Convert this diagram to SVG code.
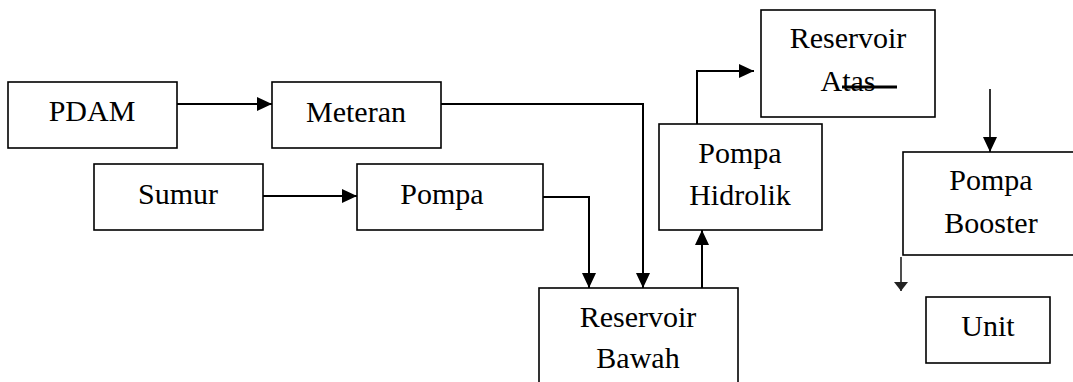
<svg xmlns="http://www.w3.org/2000/svg" width="1073" height="382" viewBox="0 0 1073 382">
<style>
.box{fill:#fff;stroke:#000;stroke-width:1.6}
text{font-family:'Liberation Serif','Times New Roman','DejaVu Serif',serif;font-size:30px;fill:#000;text-anchor:middle}
.c{fill:none;stroke:#000;stroke-width:2}
</style>
<defs>
<marker id="ah" markerUnits="userSpaceOnUse" markerWidth="16" markerHeight="14" refX="15" refY="7" orient="auto">
<path d="M0,0 L15,7 L0,14 z" fill="#000"/>
</marker>
<marker id="ahs" markerUnits="userSpaceOnUse" markerWidth="10" markerHeight="14" refX="9" refY="7" orient="auto">
<path d="M0,0 L9,7 L0,14 z" fill="#222"/>
</marker>
</defs>
<rect width="1073" height="382" fill="#fff"/>
<g id="pdam"><rect class="box" x="8" y="82" width="169" height="66"/><text font-family="Liberation Serif, serif" x="92" y="121">PDAM</text></g>
<g id="meteran"><rect class="box" x="272" y="82" width="169" height="66"/><text font-family="Liberation Serif, serif" x="356" y="122">Meteran</text></g>
<g id="sumur"><rect class="box" x="94" y="164" width="169" height="66"/><text font-family="Liberation Serif, serif" x="178" y="204">Sumur</text></g>
<g id="pompa"><rect class="box" x="357" y="164" width="186" height="66"/><text font-family="Liberation Serif, serif" x="442" y="204">Pompa</text></g>
<g id="reservoir-bawah"><rect class="box" x="539" y="288" width="199" height="100"/><text font-family="Liberation Serif, serif" x="638" y="327">Reservoir</text><text font-family="Liberation Serif, serif" x="638" y="368">Bawah</text></g>
<g id="pompa-hidrolik"><rect class="box" x="659" y="124" width="163" height="106"/><text font-family="Liberation Serif, serif" x="740" y="163">Pompa</text><text font-family="Liberation Serif, serif" x="740" y="205">Hidrolik</text></g>
<g id="reservoir-atas"><rect class="box" x="761" y="10" width="174" height="107"/><text font-family="Liberation Serif, serif" x="848" y="48">Reservoir</text><text font-family="Liberation Serif, serif" x="848" y="91">Atas</text><line x1="842" y1="87" x2="897" y2="87" stroke="#000" stroke-width="3"/></g>
<g id="pompa-booster"><rect class="box" x="903" y="152" width="180" height="103"/><text font-family="Liberation Serif, serif" x="991" y="190">Pompa</text><text font-family="Liberation Serif, serif" x="991" y="233">Booster</text></g>
<g id="unit"><rect class="box" x="926" y="297" width="124" height="66"/><text font-family="Liberation Serif, serif" x="988" y="336">Unit</text></g>
<g id="connectors">
<path class="c" d="M177,104 H272" marker-end="url(#ah)"/>
<path class="c" d="M263,196 H357" marker-end="url(#ah)"/>
<path class="c" d="M441,104 H643 V288" marker-end="url(#ah)"/>
<path class="c" d="M543,197 H589 V288" marker-end="url(#ah)"/>
<path class="c" d="M702,288 V230" marker-end="url(#ah)"/>
<path class="c" d="M697,124 V71 H754" marker-end="url(#ah)"/>
<path class="c" d="M990,89 V152" marker-end="url(#ah)" style="stroke-width:1.6"/>
<path class="c" d="M901,257 V291" marker-end="url(#ahs)" style="stroke-width:1.6;stroke:#222"/>
</g>
</svg>
